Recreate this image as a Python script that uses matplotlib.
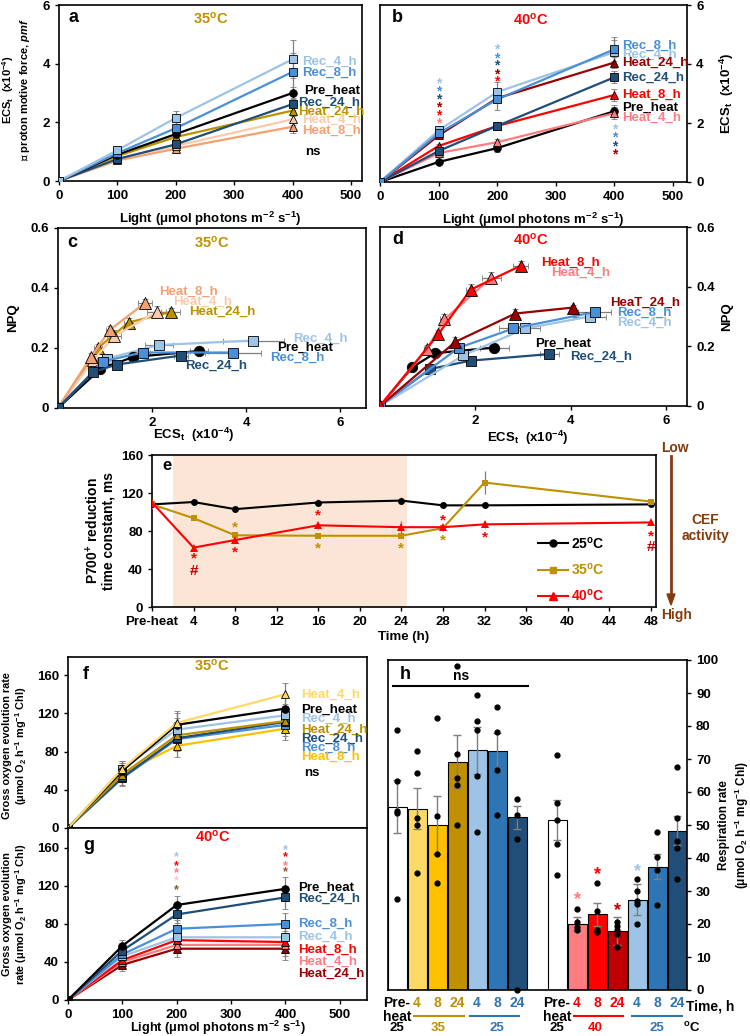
import matplotlib.pyplot as plt
import numpy as np
from matplotlib.lines import Line2D

plt.rcParams['font.family'] = ['Liberation Sans', 'DejaVu Sans']
plt.rcParams['font.weight'] = 'bold'
plt.rcParams['axes.labelweight'] = 'bold'
plt.rcParams['mathtext.fontset'] = 'custom'
plt.rcParams['mathtext.rm'] = 'Liberation Sans:bold'
plt.rcParams['mathtext.it'] = 'Liberation Sans:italic:bold'
plt.rcParams['mathtext.bf'] = 'Liberation Sans:bold'
plt.rcParams['mathtext.default'] = 'rm'
plt.rcParams['axes.linewidth'] = 1.2
plt.rcParams['xtick.major.width'] = 1.0
plt.rcParams['ytick.major.width'] = 1.0
plt.rcParams['xtick.major.size'] = 3
plt.rcParams['ytick.major.size'] = 3
plt.rcParams['xtick.labelsize'] = 9.5
plt.rcParams['ytick.labelsize'] = 9.5

# colours
C_PRE = 'black'
C_REC4 = '#9DC3E6'
C_REC8 = '#4A90D9'
C_REC24 = '#1F4E79'
C_H4_35A = '#F8CBAD'
C_H8_35A = '#F4A070'
C_H24_35 = '#BF9000'
C_H4_35F = '#FFD966'
C_H8_35F = '#FFC000'
C_H4_40 = '#FF7C80'
C_H8_40 = '#FF0000'
C_H24_40 = '#990000'
C_BROWN = '#843C0C'

light = [0, 100, 200, 400]

# panel a: ECSt at 35 C
a_rec4 = [0, 1.05, 2.15, 4.15]
a_rec8 = [0, 0.95, 1.8, 3.72]
a_pre = [0, 0.9, 1.6, 3.0]
a_rec24 = [0, 0.75, 1.25, 2.62]
a_heat24 = [0, 0.85, 1.5, 2.4]
a_heat4 = [0, 0.75, 1.2, 2.1]
a_heat8 = [0, 0.7, 1.1, 1.85]
a_err_big = [0, 0.15, 0.25, 0.65]
a_err = [0, 0.08, 0.12, 0.2]

# panel b: ECSt at 40 C
b_rec8 = [0, 1.65, 2.8, 4.5]
b_rec4 = [0, 1.75, 3.05, 4.4]
b_heat24 = [0, 1.58, 2.84, 4.05]
b_rec24 = [0, 1.05, 1.9, 3.55]
b_heat8 = [0, 1.22, 1.9, 2.95]
b_pre = [0, 0.68, 1.15, 2.4]
b_heat4 = [0, 0.98, 1.35, 2.33]
b_err_big = [0, 0.1, 0.35, 0.4]
b_err = [0, 0.08, 0.12, 0.2]

# panel c: NPQ vs ECSt at 35 C
c_heat8 = [0, 0.17, 0.26, 0.35]
c_heat4 = [0, 0.16, 0.24, 0.32]
c_heat24 = [0, 0.2, 0.285, 0.32]
c_rec4 = [0, 0.165, 0.21, 0.225]
c_pre = [0, 0.13, 0.17, 0.19]
c_rec8 = [0, 0.155, 0.185, 0.185]
c_rec24 = [0, 0.12, 0.145, 0.175]

# panel d: NPQ vs ECSt at 40 C
d_heat8 = [0, 0.24, 0.39, 0.47]
d_heat4 = [0, 0.19, 0.29, 0.43]
d_heat24 = [0, 0.215, 0.31, 0.33]
d_rec8 = [0, 0.195, 0.26, 0.315]
d_rec4 = [0, 0.17, 0.26, 0.30]
d_pre = [0, 0.13, 0.177, 0.196]
d_rec24 = [0, 0.124, 0.152, 0.174]

# panel e: P700+ reduction time constant
time_h = [0, 4, 8, 16, 24, 28, 32, 48]
e_25 = [108, 110.5, 103, 110, 112, 107, 107, 108]
e_35 = [108, 93.5, 75.5, 75, 75, 83, 131, 111]
e_40 = [110, 62.5, 70.5, 86, 84, 84, 87, 89]
e_25_err = [5, 3, 2, 4, 4, 3, 3, 2]
e_35_err = [3, 2, 2, 2, 2, 3, 12, 3]
e_40_err = [3, 2, 3, 4, 7, 3, 4, 3]
e_ticks = ['Pre-heat', '4', '8', '12', '16', '20', '24', '28', '32', '36', '40', '44', '48']

# panel f: gross O2 evolution at 35 C
f_heat4 = [0, 62, 110, 140]
f_pre = [0, 60, 108, 125]
f_rec4 = [0, 62, 103, 118]
f_heat24 = [0, 56, 97, 112]
f_rec24 = [0, 53, 94, 111]
f_rec8 = [0, 52, 93, 108]
f_heat8 = [0, 57, 86, 104]
f_err = [0, 8, 12, 12]

# panel g: gross O2 evolution at 40 C
g_pre = [0, 57, 100, 117]
g_rec24 = [0, 52, 90, 108]
g_rec8 = [0, 48, 75, 80]
g_rec4 = [0, 46, 66, 66]
g_heat8 = [0, 42, 63, 61]
g_heat4 = [0, 40, 58, 58]
g_heat24 = [0, 37, 54, 54]
g_err = [0, 6, 9, 12]

# panel h: respiration
h_pos = [0, 1, 2, 3, 4, 5, 6, 8, 9, 10, 11, 12, 13, 14]
h_mean = [55.5, 55.0, 50.0, 69.2, 72.6, 72.3, 52.3, 51.6, 20.0, 23.0, 17.8, 27.4, 37.4, 48.3]
h_err = [8, 6.3, 8.7, 8, 7.2, 5.7, 3.5, 6, 2, 3.5, 4.3, 4.6, 3.7, 4.5]
h_colors = ['white', '#FFD966', '#FFC000', '#BF9000', '#9DC3E6', '#2E75B6', '#1F4E79',
            'white', '#FF7C80', '#FF0000', '#C00000', '#9DC3E6', '#2E75B6', '#1F4E79']
h_dots = [[78.9, 63.2, 54.3, 53.5, 27.7],
          [72.4, 65.8, 52.1, 50.1, 35.5],
          [82.5, 52.6, 41.1, 32.4],
          [98.3, 71.6, 64.2, 62.2, 50.1],
          [89.3, 81.6, 78.9, 65.0, 47.8],
          [85.8, 78.2, 66.8, 52.9],
          [57.9, 53.1, 45.9, 0.0],
          [71.1, 56.6, 51.6, 44.1, 34.8],
          [24.6, 20.6, 19.0, 18.1],
          [32.3, 23.9, 18.1, 17.6],
          [20.6, 19.3, 18.3, 17.0, 13.0],
          [33.5, 29.9, 26.9, 26.2, 20.0],
          [47.8, 40.4, 36.3, 25.7],
          [67.5, 52.1, 45.2, 42.9, 33.5]]
h_ticks = ['Pre-\nheat', '4', '8', '24', '4', '8', '24', 'Pre-\nheat', '4', '8', '24', '4', '8', '24']
h_tick_colors = ['black', '#BF9000', '#BF9000', '#BF9000', '#2E75B6', '#2E75B6', '#2E75B6',
                 'black', '#FF0000', '#FF0000', '#FF0000', '#2E75B6', '#2E75B6', '#2E75B6']

W, H = 750, 1036
fig = plt.figure(figsize=(7.5, 10.36), dpi=100)


def add_ax(x0, y0, x1, y1):
    return fig.add_axes([x0 / W, 1 - y1 / H, (x1 - x0) / W, (y1 - y0) / H])


def line(ax, x, y, color, marker, yerr=None, xerr=None, ms=5.5, lw=1.6, z=3):
    ax.errorbar(x, y, yerr=yerr, xerr=xerr, color=color, marker=marker, ms=ms,
                mec='black', mew=0.6, lw=lw, ecolor='#7F7F7F', elinewidth=0.9,
                capsize=2, capthick=0.9, zorder=z)


def labels(ax, items, fs=9.5):
    for txt, x, y, col in items:
        ax.text(x, y, txt, color=col, fontsize=fs, fontweight='bold', va='center', ha='left')


def stars(ax, items, fs=10):
    for x, y, s, col in items:
        ax.text(x, y, s, color=col, fontsize=fs, fontweight='bold', ha='center', va='center')


deg35 = '35$^{o}$C'
deg40 = '40$^{o}$C'
light_lab = 'Light (μmol photons m$^{-2}$ s$^{-1}$)'
ecs_lab = 'ECS$_{t}$  (x10$^{-4}$)'

# ---------------- panel a
ax = add_ax(59, 5, 362, 181)
line(ax, light, a_heat8, C_H8_35A, '^', yerr=a_err)
line(ax, light, a_heat4, C_H4_35A, '^', yerr=a_err)
line(ax, light, a_heat24, C_H24_35, '^', yerr=a_err)
line(ax, light, a_rec24, C_REC24, 's', yerr=a_err)
line(ax, light, a_pre, C_PRE, 'o', yerr=a_err)
line(ax, light, a_rec8, C_REC8, 's', yerr=a_err_big)
line(ax, light, a_rec4, C_REC4, 's', yerr=a_err_big)
ax.set_xlim(0, 519)
ax.set_ylim(0, 6)
ax.set_xticks([0, 100, 200, 300, 400, 500])
ax.set_yticks([0, 2, 4, 6])
labels(ax, [('Rec_4_h', 416, 4.06, C_REC4), ('Rec_8_h', 416, 3.69, C_REC8),
            ('Pre_heat', 420, 3.07, C_PRE), ('Rec_24_h', 410, 2.66, C_REC24),
            ('Heat_24_h', 410, 2.35, C_H24_35), ('Heat_4_h', 416, 2.08, C_H4_35A),
            ('Heat_8_h', 416, 1.71, C_H8_35A), ('ns', 422, 0.99, 'black')])
ax.text(0.03, 0.93, 'a', transform=ax.transAxes, fontsize=13, fontweight='bold', va='center')
ax.text(0.5, 0.92, deg35, transform=ax.transAxes, fontsize=10.5, color=C_H24_35, ha='center', va='center')
ax.set_ylabel(ecs_lab + '\n∝ proton motive force, $\\mathit{pmf}$', fontsize=8, linespacing=1.15)
ax.yaxis.set_label_coords(-0.09, 0.52)
ax.set_xlabel(light_lab, fontsize=9.5)
ax.xaxis.set_label_coords(0.5, -0.165)

# ---------------- panel b
ax = add_ax(380, 5, 687, 182)
line(ax, light, b_pre, C_PRE, 'o', yerr=b_err)
line(ax, light, b_heat4, C_H4_40, '^', yerr=b_err)
line(ax, light, b_heat8, C_H8_40, '^', yerr=b_err)
line(ax, light, b_rec24, C_REC24, 's', yerr=b_err)
line(ax, light, b_heat24, C_H24_40, '^', yerr=b_err)
line(ax, light, b_rec4, C_REC4, 's', yerr=b_err_big)
line(ax, light, b_rec8, C_REC8, 's', yerr=b_err_big)
ax.set_xlim(0, 524)
ax.set_ylim(0, 6)
ax.set_xticks([0, 100, 200, 300, 400, 500])
ax.set_yticks([0, 2, 4, 6])
ax.yaxis.tick_right()
ax.yaxis.set_label_position('right')
labels(ax, [('Rec_8_h', 413, 4.62, C_REC8), ('Rec_4_h', 413, 4.31, C_REC4),
            ('Heat_24_h', 413, 4.03, C_H24_40), ('Rec_24_h', 413, 3.53, C_REC24),
            ('Heat_8_h', 413, 2.94, C_H8_40), ('Pre_heat', 413, 2.5, C_PRE),
            ('Heat_4_h', 413, 2.19, C_H4_40)])
stars(ax, [(100, 3.35, '*', C_REC4), (100, 3.08, '*', C_REC8), (100, 2.8, '*', C_REC24),
           (100, 2.54, '*', C_H24_40), (100, 2.27, '*', C_H8_40), (100, 2.0, '*', C_H4_40),
           (200, 4.48, '*', C_REC4), (200, 4.2, '*', C_REC8), (200, 3.94, '*', C_REC24),
           (200, 3.66, '*', C_H24_40), (200, 3.4, '*', C_H8_40),
           (400, 1.78, '*', C_REC4), (400, 1.5, '*', C_REC8), (400, 1.22, '*', C_REC24),
           (400, 0.94, '*', C_H24_40)])
ax.text(0.04, 0.93, 'b', transform=ax.transAxes, fontsize=13, fontweight='bold', va='center')
ax.text(0.49, 0.92, deg40, transform=ax.transAxes, fontsize=10.5, color=C_H8_40, ha='center', va='center')
ax.set_ylabel(ecs_lab, fontsize=9.5)
ax.yaxis.set_label_coords(1.1, 0.5)
ax.set_xlabel(light_lab, fontsize=9.5)
ax.xaxis.set_label_coords(0.5, -0.16)

# ---------------- panel c
ax = add_ax(58, 228, 366, 408)
line(ax, a_heat24, c_heat24, C_H24_35, '^', yerr=[0, 0.015, 0.015, 0.015], xerr=[0, 0.08, 0.1, 0.2], ms=8)
line(ax, a_heat4, c_heat4, C_H4_35A, '^', yerr=[0, 0.015, 0.02, 0.02], xerr=[0, 0.08, 0.15, 0.2], ms=8)
line(ax, a_heat8, c_heat8, C_H8_35A, '^', yerr=[0, 0.015, 0.015, 0.015], xerr=[0, 0.05, 0.08, 0.15], ms=8)
line(ax, a_rec4, c_rec4, C_REC4, 's', xerr=[0, 0.1, 0.3, 0.65], ms=7.5)
line(ax, a_pre, c_pre, C_PRE, 'o', xerr=[0, 0.08, 0.1, 0.2], ms=7.5)
line(ax, a_rec8, c_rec8, C_REC8, 's', xerr=[0, 0.08, 0.15, 0.6], ms=7.5)
line(ax, a_rec24, c_rec24, C_REC24, 's', xerr=[0, 0.05, 0.08, 0.15], ms=7.5)
ax.set_xlim(0, 6.55)
ax.set_ylim(0, 0.6)
ax.set_xticks([2, 4, 6])
ax.set_yticks([0, 0.2, 0.4, 0.6])
ax.set_yticklabels(['0', '0.2', '0.4', '0.6'])
labels(ax, [('Heat_8_h', 2.16, 0.388, C_H8_35A), ('Heat_4_h', 2.45, 0.353, C_H4_35A),
            ('Heat_24_h', 2.78, 0.32, C_H24_35), ('Rec_4_h', 5.0, 0.232, C_REC4),
            ('Pre_heat', 4.66, 0.2, C_PRE), ('Rec_8_h', 4.52, 0.168, C_REC8),
            ('Rec_24_h', 2.71, 0.14, C_REC24)])
ax.text(0.03, 0.92, 'c', transform=ax.transAxes, fontsize=13, fontweight='bold', va='center')
ax.text(0.5, 0.92, deg35, transform=ax.transAxes, fontsize=10.5, color=C_H24_35, ha='center', va='center')
ax.set_ylabel('NPQ', fontsize=9.5)
ax.yaxis.set_label_coords(-0.125, 0.5)
ax.set_xlabel(ecs_lab, fontsize=9.5)
ax.xaxis.set_label_coords(0.44, -0.1)

# ---------------- panel d
ax = add_ax(380, 227, 687, 406)
line(ax, b_rec24, d_rec24, C_REC24, 's', xerr=[0, 0.05, 0.1, 0.2], ms=7.5)
line(ax, b_pre, d_pre, C_PRE, 'o', xerr=[0, 0.05, 0.1, 0.3], ms=7.5)
line(ax, b_rec4, d_rec4, C_REC4, 's', xerr=[0, 0.1, 0.3, 0.35], ms=7.5)
line(ax, b_rec8, d_rec8, C_REC8, 's', xerr=[0, 0.1, 0.3, 0.35], ms=7.5)
line(ax, b_heat24, d_heat24, C_H24_40, '^', yerr=[0, 0.015, 0.015, 0.01], ms=8)
line(ax, b_heat4, d_heat4, C_H4_40, '^', yerr=[0, 0.015, 0.02, 0.02], xerr=[0, 0.05, 0.1, 0.2], ms=8)
line(ax, b_heat8, d_heat8, C_H8_40, '^', yerr=[0, 0.015, 0.02, 0.015], xerr=[0, 0.05, 0.1, 0.15], ms=8)
ax.set_xlim(0, 6.44)
ax.set_ylim(0, 0.6)
ax.set_xticks([2, 4, 6])
ax.set_yticks([0, 0.2, 0.4, 0.6])
ax.set_yticklabels(['0', '0.2', '0.4', '0.6'])
ax.yaxis.tick_right()
ax.yaxis.set_label_position('right')
labels(ax, [('Heat_8_h', 3.37, 0.48, C_H8_40), ('Heat_4_h', 3.6, 0.447, C_H4_40),
            ('HeaT_24_h', 4.82, 0.347, C_H24_40), ('Rec_8_h', 4.97, 0.312, C_REC8),
            ('Rec_4_h', 4.97, 0.28, C_REC4), ('Pre_heat', 3.25, 0.21, C_PRE),
            ('Rec_24_h', 3.99, 0.164, C_REC24)])
ax.text(0.04, 0.93, 'd', transform=ax.transAxes, fontsize=13, fontweight='bold', va='center')
ax.text(0.49, 0.93, deg40, transform=ax.transAxes, fontsize=10.5, color=C_H8_40, ha='center', va='center')
ax.set_ylabel('NPQ', fontsize=9.5)
ax.yaxis.set_label_coords(1.11, 0.5)
ax.set_xlabel(ecs_lab, fontsize=9.5)
ax.xaxis.set_label_coords(0.48, -0.13)

# ---------------- panel e
ax = add_ax(152, 455, 656, 607)
ax.axvspan(2.0, 24.5, color='#FBE5D6', zorder=0, lw=0)
line(ax, time_h, e_25, 'black', 'o', yerr=e_25_err, ms=5, lw=1.5)
line(ax, time_h, e_35, C_H24_35, 's', yerr=e_35_err, ms=5, lw=1.5)
line(ax, time_h, e_40, C_H8_40, '^', yerr=e_40_err, ms=5.5, lw=1.5)
for h_ in ax.lines:
    h_.set_markeredgewidth(0)
ax.set_xlim(0, 48.5)
ax.set_ylim(0, 160)
ax.set_xticks(np.arange(0, 49, 4))
ax.set_xticklabels(e_ticks)
ax.set_yticks([0, 40, 80, 120, 160])
stars(ax, [(4, 51, '*', C_H8_40), (4, 38, '#', '#C00000'), (8, 84, '*', C_H24_35),
           (8, 57, '*', C_H8_40), (16, 96, '*', C_H8_40), (16, 62, '*', C_H24_35),
           (24, 62, '*', C_H24_35), (28, 91, '*', C_H8_40), (28, 70, '*', C_H24_35),
           (32, 73, '*', C_H8_40), (48, 74, '*', C_H8_40), (48, 63, '#', '#C00000')], fs=11)
hnd = [Line2D([], [], color='black', marker='o', ms=5, lw=1.5),
       Line2D([], [], color=C_H24_35, marker='s', ms=5, lw=1.5),
       Line2D([], [], color=C_H8_40, marker='^', ms=5.5, lw=1.5)]
ax.legend(hnd, ['25$^{o}$C', '35$^{o}$C', '40$^{o}$C'], loc='lower left',
          bbox_to_anchor=(0.765, 0.02), frameon=False, labelcolor='linecolor',
          handlelength=2.2, handletextpad=0.2, labelspacing=0.75, borderpad=0,
          borderaxespad=0, prop={'weight': 'bold', 'size': 10})
ax.text(0.02, 0.93, 'e', transform=ax.transAxes, fontsize=12, fontweight='bold', va='center')
ax.set_ylabel('P700$^{+}$ reduction\ntime constant, ms', fontsize=10, linespacing=1.0)
ax.yaxis.set_label_coords(-0.072, 0.5)
ax.set_xlabel('Time (h)', fontsize=9.5)
ax.xaxis.set_label_coords(0.5, -0.16)
fig.text(675 / W, 1 - 448 / H, 'Low', color=C_BROWN, fontsize=10, ha='center', va='center')
fig.text(677 / W, 1 - 615 / H, 'High', color=C_BROWN, fontsize=10, ha='center', va='center')
fig.text(705 / W, 1 - 528 / H, 'CEF\nactivity', color=C_BROWN, fontsize=10, ha='center', va='center',
         linespacing=1.1)
fig.add_artist(plt.Line2D([671 / W, 671 / W], [1 - 456 / H, 1 - 596 / H], color=C_BROWN, lw=2))
fig.patches.append(plt.Polygon([[667 / W, 1 - 594 / H], [675 / W, 1 - 594 / H], [671 / W, 1 - 605 / H]],
                               closed=True, color=C_BROWN, transform=fig.transFigure, figure=fig))

# ---------------- panel f
ax = add_ax(68, 657, 367, 828)
line(ax, light, f_heat8, C_H8_35F, '^', yerr=f_err)
line(ax, light, f_rec8, C_REC8, 's', yerr=f_err)
line(ax, light, f_rec24, C_REC24, 's', yerr=f_err)
line(ax, light, f_heat24, C_H24_35, '^', yerr=f_err)
line(ax, light, f_rec4, C_REC4, 's', yerr=f_err)
line(ax, light, f_pre, C_PRE, 'o', yerr=f_err)
line(ax, light, f_heat4, C_H4_35F, '^', yerr=f_err)
ax.set_xlim(0, 550)
ax.set_ylim(0, 179)
ax.set_xticks([0, 100, 200, 300, 400, 500])
ax.set_xticklabels([])
ax.tick_params(axis='x', length=0)
ax.set_yticks([0, 40, 80, 120, 160])
labels(ax, [('Heat_4_h', 428, 139.7, C_H4_35F), ('Pre_heat', 428, 123.3, C_PRE),
            ('Rec_4_h', 428, 114.6, C_REC4), ('Heat_24_h', 428, 102.4, C_H24_35),
            ('Rec_24_h', 428, 93.6, C_REC24), ('Rec_8_h', 428, 84.2, C_REC8),
            ('Heat_8_h', 428, 74.4, C_H8_35F), ('ns', 434, 57.6, 'black')])
ax.text(0.05, 0.9, 'f', transform=ax.transAxes, fontsize=13, fontweight='bold', va='center')
ax.text(0.48, 0.95, deg35, transform=ax.transAxes, fontsize=10.5, color=C_H24_35, ha='center', va='center')
ax.set_ylabel('Gross oxygen evolution rate\n(μmol O$_2$ h$^{-1}$ mg$^{-1}$ Chl)', fontsize=7.8, linespacing=1.15)
ax.yaxis.set_label_coords(-0.13, 0.48)

# ---------------- panel g
ax = add_ax(68, 828, 367, 1000)
line(ax, light, g_heat24, C_H24_40, '^', yerr=g_err)
line(ax, light, g_heat4, C_H4_40, '^', yerr=g_err)
line(ax, light, g_heat8, C_H8_40, '^', yerr=g_err)
line(ax, light, g_rec4, C_REC4, 's', yerr=g_err)
line(ax, light, g_rec8, C_REC8, 's', yerr=g_err)
line(ax, light, g_rec24, C_REC24, 's', yerr=g_err)
line(ax, light, g_pre, C_PRE, 'o', yerr=g_err)
ax.set_xlim(0, 550)
ax.set_ylim(0, 181)
ax.set_xticks([0, 100, 200, 300, 400, 500])
ax.set_yticks([0, 40, 80, 120, 160])
labels(ax, [('Pre_heat', 423, 117.6, C_PRE), ('Rec_24_h', 423, 106, C_REC24),
            ('Rec_8_h', 423, 80.7, C_REC8), ('Rec_4_h', 423, 66.1, C_REC4),
            ('Heat_8_h', 423, 52.9, C_H8_40), ('Heat_4_h', 423, 40, C_H4_40),
            ('Heat_24_h', 423, 27.1, C_H24_40)])
stars(ax, [(200, 150, '*', C_REC4), (200, 141, '*', C_H8_40), (200, 133, '*', C_H4_40),
           (200, 125, '*', '#FFC7CE'), (200, 116, '*', '#8B5A2B'),
           (400, 158, '*', C_REC4), (400, 150, '*', C_H8_40), (400, 141, '*', C_H4_40),
           (400, 134, '*', '#8B5A2B')], fs=9)
ax.text(0.05, 0.9, 'g', transform=ax.transAxes, fontsize=13, fontweight='bold', va='center')
ax.text(0.485, 0.95, deg40, transform=ax.transAxes, fontsize=10.5, color=C_H8_40, ha='center', va='center')
ax.set_ylabel('Gross oxygen evolution\nrate (μmol O$_2$ h$^{-1}$ mg$^{-1}$ Chl)', fontsize=7.8, linespacing=1.15)
ax.yaxis.set_label_coords(-0.13, 0.5)
ax.set_xlabel(light_lab, fontsize=9.2)
ax.xaxis.set_label_coords(0.5, -0.11)

# ---------------- panel h
ax = add_ax(388, 660, 687, 990)
ax.bar(h_pos, h_mean, width=0.95, color=h_colors, edgecolor='black', lw=0.8, zorder=2)
ax.errorbar(h_pos, h_mean, yerr=h_err, fmt='none', ecolor='#7F7F7F', elinewidth=1,
            capsize=3, capthick=1, zorder=3)
for p, vals in zip(h_pos, h_dots):
    ax.plot([p] * len(vals), vals, 'o', color='black', ms=3.5, zorder=4, clip_on=False)
ax.set_xlim(-0.45, 14.5)
ax.set_ylim(0, 100)
ax.set_yticks(np.arange(0, 101, 10))
ax.yaxis.tick_right()
ax.yaxis.set_label_position('right')
ax.set_xticks(h_pos)
ax.set_xticklabels(h_ticks, fontsize=10, linespacing=1.0)
ax.tick_params(axis='x', length=0, pad=4)
for t, c in zip(ax.get_xticklabels(), h_tick_colors):
    t.set_color(c)
ax.plot([-0.2, 6.55], [92, 92], color='black', lw=1.5)
ax.text(3.2, 93, 'ns', fontsize=10, ha='center', va='bottom')
ax.text(0.04, 0.955, 'h', transform=ax.transAxes, fontsize=13, fontweight='bold', va='center')
stars(ax, [(9, 27.5, '*', C_H4_40), (10, 35, '*', C_H8_40), (11, 24, '*', '#C00000'),
           (12, 36, '*', C_REC4)], fs=13)
tr = ax.get_xaxis_transform()
ax.text(14.45, -0.05, 'Time, h', transform=tr, fontsize=10, ha='left', va='center')
for txt, x, c in [('25', 0, 'black'), ('35', 2.05, '#BF9000'), ('25', 5, '#2E75B6'),
                  ('25', 8, 'black'), ('40', 9.9, '#FF0000'), ('25', 13, '#2E75B6'),
                  ('$^{o}$C', 14.75, 'black')]:
    ax.text(x, -0.115, txt, transform=tr, color=c, fontsize=9.5, ha='center', va='center')
for x0, x1, c in [(0.85, 3.35, '#BF9000'), (3.65, 6.1, '#2E75B6'),
                  (8.85, 11.3, '#FF0000'), (11.75, 14.25, '#2E75B6')]:
    ax.plot([x0, x1], [-0.08, -0.08], transform=tr, color=c, lw=1.5, clip_on=False)
ax.set_ylabel('Respiration rate\n(μmol O$_2$ h$^{-1}$ mg$^{-1}$ Chl)', fontsize=8.5, linespacing=1.15)
ax.yaxis.set_label_coords(1.105, 0.5)

fig.savefig('out.png', dpi=100)
